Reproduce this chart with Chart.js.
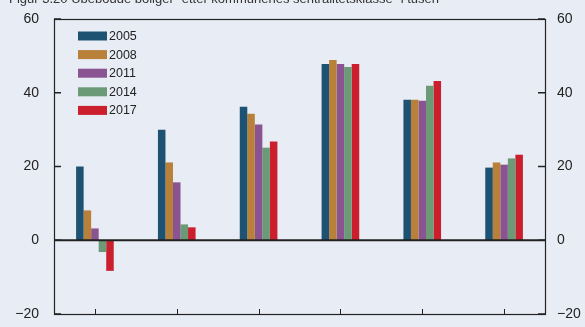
<!DOCTYPE html>
<html>
<head>
<meta charset="utf-8">
<script src="https://cdn.jsdelivr.net/npm/chart.js@4"></script>
<style>
  html, body { margin: 0; padding: 0; background: #e8ecf4; }
  #wrap { position: relative; width: 585px; height: 327px; }
</style>
</head>
<body>
<div id="wrap"><canvas id="chart"></canvas></div>
<script>
// Ubebodde boliger etter sentralitetsklasse, i tusen
const categories = ['1', '2', '3', '4', '5', '6'];
const years = ['2005', '2008', '2011', '2014', '2017'];
const colors = ['#1e5272', '#b98039', '#8a5391', '#6b9a76', '#cb1f2d'];

const v2005 = [20.0, 30.0, 36.2, 47.8, 38.1, 19.7];
const v2008 = [8.1, 21.1, 34.3, 48.9, 38.1, 21.1];
const v2011 = [3.2, 15.7, 31.4, 47.8, 37.8, 20.5];
const v2014 = [-3.2, 4.3, 25.1, 47.0, 41.9, 22.2];
const v2017 = [-8.3, 3.5, 26.8, 47.8, 43.2, 23.2];
const series = [v2005, v2008, v2011, v2014, v2017];

const yTicks = [-20, 0, 20, 40, 60];
const title = 'Figur 3.20 Ubebodde boliger¹ etter kommunenes sentralitetsklasse² i tusen';

const ink = '#222222';
const fontFamily = '"Liberation Sans", Arial, Helvetica, sans-serif';

// frame, inward ticks, zero line, legend and title
const decorPlugin = {
    id: 'decor',
    afterDatasetsDraw(chart) {
        const ctx = chart.ctx;
        const area = chart.chartArea;
        const y = chart.scales.y;
        const x = chart.scales.x;
        ctx.save();

        // zero line
        const y0 = y.getPixelForValue(0);
        ctx.strokeStyle = ink;
        ctx.lineWidth = 2;
        ctx.beginPath();
        ctx.moveTo(area.left, y0);
        ctx.lineTo(area.right, y0);
        ctx.stroke();

        // frame
        ctx.lineWidth = 1.2;
        ctx.strokeRect(area.left + 0.5, area.top + 0.5, area.right - area.left, area.bottom - area.top);

        // y ticks on both sides, pointing in
        ctx.lineWidth = 1.5;
        yTicks.forEach(v => {
            const py = y.getPixelForValue(v);
            ctx.beginPath();
            ctx.moveTo(area.left, py);
            ctx.lineTo(area.left + 7, py);
            ctx.moveTo(area.right, py);
            ctx.lineTo(area.right - 7, py);
            ctx.stroke();
        });

        // x ticks at category centres
        ctx.lineWidth = 1;
        categories.forEach((c, i) => {
            const px = Math.round(x.getPixelForValue(i)) + 0.5;
            ctx.beginPath();
            ctx.moveTo(px, area.bottom);
            ctx.lineTo(px, area.bottom - 5);
            ctx.stroke();
        });

        // legend
        ctx.font = '12.5px ' + fontFamily;
        ctx.textBaseline = 'middle';
        ctx.textAlign = 'left';
        chart.data.datasets.forEach((ds, i) => {
            const ly = 36 + i * 18.6;
            ctx.fillStyle = ds.backgroundColor;
            ctx.fillRect(78, ly - 4.5, 29, 9);
            ctx.fillStyle = ink;
            ctx.fillText(ds.label, 109, ly + 0.5);
        });

        // title, cut at top edge
        ctx.font = '13px ' + fontFamily;
        ctx.fillStyle = '#333333';
        ctx.fillText(title, 9, -1);

        ctx.restore();
    }
};

// tick padding is also added above/below vertical scales; drop it
function fixWidth(w) {
    return function(scale) {
        scale.width = w;
        scale.paddingTop = 0;
        scale.paddingBottom = 0;
    };
}

function yAxis(pos, width, pad) {
    return {
        position: pos,
        min: -20,
        max: 60,
        afterBuildTicks(scale) {
            scale.ticks = yTicks.map(v => ({ value: v }));
        },
        afterFit: fixWidth(width),
        grid: { display: false, drawTicks: false },
        border: { display: false },
        ticks: {
            padding: pad,
            color: ink,
            font: { size: 14, family: fontFamily },
            callback: v => (v < 0 ? '\u2212' + Math.abs(v) : v)
        }
    };
}

new Chart(document.getElementById('chart').getContext('2d'), {
    type: 'bar',
    data: {
        labels: categories,
        datasets: years.map((yr, i) => ({
            label: yr,
            data: series[i],
            backgroundColor: colors[i],
            borderWidth: 0,
            categoryPercentage: 0.46,
            barPercentage: 1.0
        }))
    },
    options: {
        responsive: true,
        maintainAspectRatio: false,
        animation: false,
        layout: { padding: { top: 19, bottom: 13, left: 0, right: 0 } },
        plugins: {
            legend: { display: false },
            tooltip: { enabled: false }
        },
        scales: {
            x: { display: false },
            y: yAxis('left', 54, 15),
            y2: yAxis('right', 40, 12)
        }
    },
    plugins: [decorPlugin]
});
</script>
</body>
</html>
